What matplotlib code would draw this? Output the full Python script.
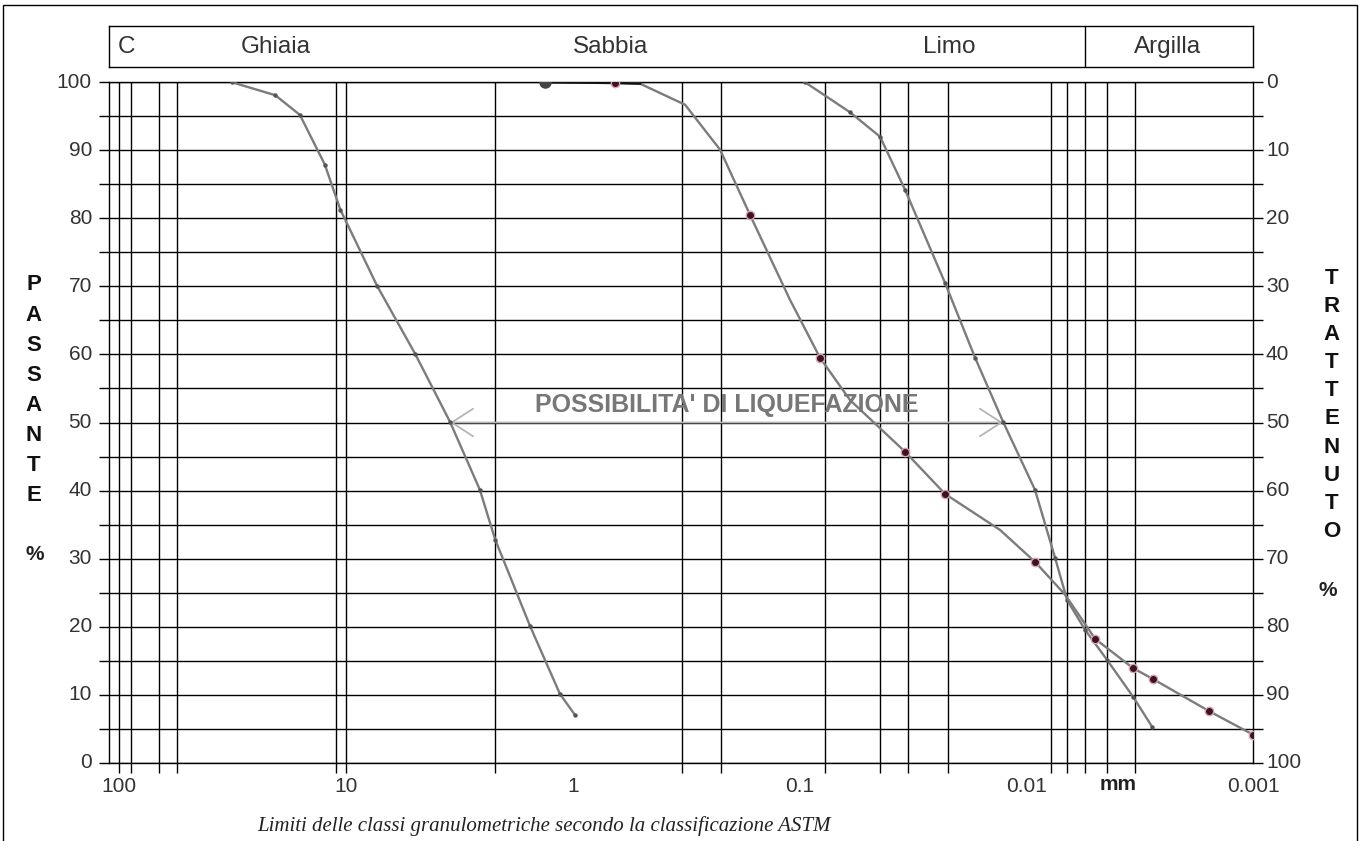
import numpy as np
import matplotlib
matplotlib.use('Agg')
import matplotlib.pyplot as plt
from matplotlib.patches import Rectangle
from matplotlib.ticker import NullLocator, FixedLocator
from matplotlib.transforms import blended_transform_factory

plt.rcParams['font.family'] = ['Liberation Sans', 'DejaVu Sans']

# ---------------- data ----------------
grid_diam = [100, 88.7, 66.5, 55.6, 11.07, 10, 2.20, 0.331, 0.222, 0.0773,
             0.0442, 0.0333, 0.0222, 0.0078, 0.00664, 0.00553, 0.00443, 0.00333]
decade_ticks = [100, 10, 1, 0.1, 0.01, 0.001]
decade_labels = ['100', '10', '1', '0.1', '0.01', '0.001']
passante_ticks = [0, 10, 20, 30, 40, 50, 60, 70, 80, 90, 100]
class_names = ['C', 'Ghiaia', 'Sabbia', 'Limo', 'Argilla']
clay_limit = 0.00553

# curve 1 (left)
c1_d = [31.8, 20.5, 15.97, 12.4, 10.6, 7.30, 4.96, 3.48, 2.57, 2.20, 1.545, 1.14, 0.978]
c1_p = [100, 98.1, 95.2, 87.9, 81.3, 70.1, 60.1, 50.1, 40.1, 32.8, 20.1, 10.1, 7.0]

# curve 2 (middle, measured sample)
c2_d = [1.326, 0.652, 0.5055, 0.320, 0.2244, 0.1655, 0.1102, 0.0813, 0.0600,
        0.0343, 0.02285, 0.01307, 0.00916, 0.00676, 0.00498, 0.00339, 0.00277,
        0.00157, 0.001]
c2_p = [100, 99.9, 99.8, 96.7, 90.1, 80.5, 68.0, 59.5, 53.3, 45.7, 39.5, 34.2,
        29.5, 24.7, 18.2, 13.9, 12.3, 7.6, 4.1]
c2_mark_d = [0.652, 0.1655, 0.0813, 0.0343, 0.02285, 0.00916, 0.00498, 0.00339,
             0.00277, 0.00157, 0.001]
c2_mark_p = [99.9, 80.5, 59.5, 45.7, 39.5, 29.5, 18.2, 13.9, 12.3, 7.6, 4.1]

# curve 3 (right)
c3_d = [0.0946, 0.0600, 0.0442, 0.0343, 0.02285, 0.01684, 0.01268, 0.00917,
        0.00748, 0.00662, 0.00551, 0.00441, 0.00339, 0.00279]
c3_p = [100, 95.6, 92.0, 84.2, 70.5, 59.5, 50.1, 40.1, 30.1, 23.9, 19.5, 15.1, 9.7, 5.25]

liq_left = (3.48, 50)
liq_right = (0.0127, 50)
liq_text = "POSSIBILITA' DI LIQUEFAZIONE"

# ---------------- layout ----------------
W, H = 1361, 841
fig = plt.figure(figsize=(W / 100, H / 100), dpi=100)
fig.patch.set_facecolor('white')

def fx(px):
    return px / W

def fy(py):
    return 1 - py / H

ax_l, ax_r = 109.3, 1253.3
ax_t, ax_b = 82.3, 762.7
ax = fig.add_axes([fx(ax_l), fy(ax_b), fx(ax_r - ax_l), (ax_b - ax_t) / H])
hd = fig.add_axes([fx(ax_l), fy(67.3), fx(ax_r - ax_l), (67.3 - 26) / H], sharex=ax)

ax.set_xscale('log')
ax.set_xlim(110.6, 0.001)
ax.set_ylim(0, 100)

ax.xaxis.set_major_locator(FixedLocator(grid_diam))
ax.xaxis.set_minor_locator(NullLocator())
ax.set_xticklabels([])
ax.set_yticks(np.arange(0, 101, 5))
ax.set_yticklabels([])
ax.tick_params(axis='x', direction='out', length=7, width=1.0, color='black',
               bottom=True, top=False, labelbottom=False)
ax.tick_params(axis='y', direction='out', length=7, width=1.0, color='black',
               left=True, right=True, labelleft=False)
ax.grid(True, which='major', color='black', lw=1.0)
for s in ax.spines.values():
    s.set_color('black')
    s.set_linewidth(1.0)

# header
hd.set_ylim(0, 1)
hd.tick_params(axis='both', which='both', bottom=False, left=False, top=False,
               right=False, labelbottom=False, labelleft=False)
hd.xaxis.set_minor_locator(NullLocator())
for s in hd.spines.values():
    s.set_color('black')
    s.set_linewidth(1.0)
hd.axvline(clay_limit, color='black', lw=1.0)
class_pos = [101, 20.5, 0.68, 0.0219, 0.0024]
class_ha = ['left', 'center', 'center', 'center', 'center']
for name, xp, ha in zip(class_names, class_pos, class_ha):
    hd.text(xp, 0.5, name, ha=ha, va='center', fontsize=17.5, color='#333333')

# curves
gray = '#7c7c7c'
ax.plot(c1_d, c1_p, color=gray, lw=1.7, marker='o', ms=2.2, mfc='#555555',
        mec='#555555', zorder=4)
ax.plot(c3_d, c3_p, color=gray, lw=1.7, marker='o', ms=2.2, mfc='#555555',
        mec='#555555', zorder=4)
ax.plot(c2_d, c2_p, color=gray, lw=1.7, zorder=4)
ax.plot(c2_d[:3], c2_p[:3], color='#111111', lw=1.7, zorder=5)
ax.plot(c2_d[:1], c2_p[:1], 'o', ms=8, color='#444444', zorder=6)
ax.plot(c2_mark_d, c2_mark_p, 'o', ms=6, mfc='#3a1420', mec='#d8a0b0', mew=1.0,
        zorder=6)

# liquefaction arrow and text
ax.annotate('', xy=liq_right, xytext=liq_left,
            arrowprops=dict(arrowstyle='<->,head_length=0.7,head_width=0.45',
                            color='#b5b5b5', lw=1.3, mutation_scale=22,
                            shrinkA=0, shrinkB=0), zorder=3)
ax.text(0.209, 52.5, liq_text, ha='center', va='center', fontsize=18,
        fontweight='bold', color='#777777', zorder=5)

# tick labels
bt = blended_transform_factory(ax.transData, fig.transFigure)
for v, lab in zip(decade_ticks, decade_labels):
    ax.text(v, fy(787), lab, transform=bt, ha='center', va='center',
            fontsize=15, color='#333333')
for v in passante_ticks:
    yt = blended_transform_factory(fig.transFigure, ax.transData)
    ax.text(fx(92), v, str(v), transform=yt, ha='right', va='center',
            fontsize=15, color='#333333')
    ax.text(fx(1266), v, str(100 - v), transform=yt, ha='left', va='center',
            fontsize=15, color='#333333')

fig.text(fx(1118), fy(785), 'mm', ha='center', va='center', fontsize=15,
         fontweight='bold', color='#222222')

# side titles
for i, ch in enumerate('PASSANTE'):
    fig.text(fx(34), fy(285 + i * 30.1), ch, ha='center', va='center',
             fontsize=16, fontweight='bold', color='#111111')
fig.text(fx(35), fy(555), '%', ha='center', va='center', fontsize=15,
         fontweight='bold', color='#222222')
for i, ch in enumerate('TRATTENUTO'):
    fig.text(fx(1332), fy(278 + i * 28.2), ch, ha='center', va='center',
             fontsize=16, fontweight='bold', color='#111111')
fig.text(fx(1328), fy(590), '%', ha='center', va='center', fontsize=15,
         fontweight='bold', color='#222222')

# caption
fig.text(fx(544), fy(826), 'Limiti delle classi granulometriche secondo la classificazione ASTM',
         ha='center', va='center', fontsize=15, style='italic',
         family=['Liberation Serif', 'DejaVu Serif'], color='#222222')

# outer frame
fig.add_artist(Rectangle((fx(3), -0.01), fx(1354), fy(5) + 0.01,
                         transform=fig.transFigure, fill=False,
                         edgecolor='black', lw=1.0))

fig.savefig('out.png', dpi=100)
